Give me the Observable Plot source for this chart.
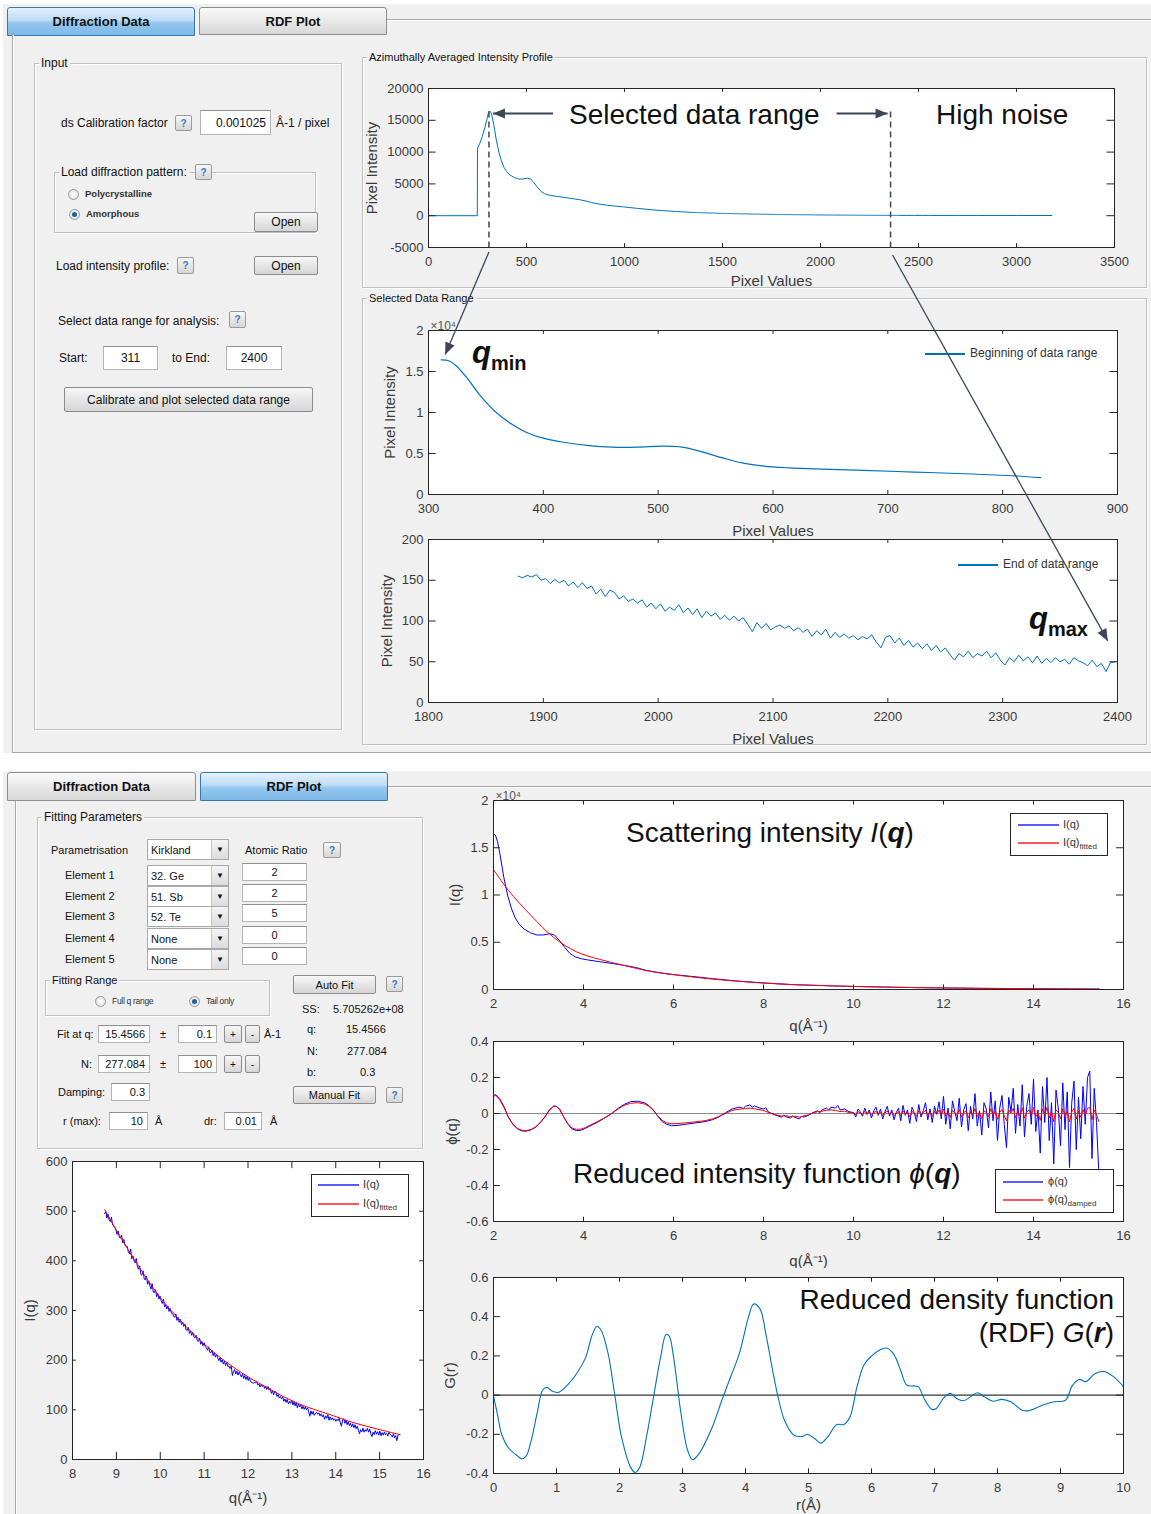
<!DOCTYPE html>
<html><head><meta charset="utf-8">
<script src="https://cdn.jsdelivr.net/npm/d3@7"></script>
<script src="https://cdn.jsdelivr.net/npm/@observablehq/plot@0.6"></script>
<style>
body{margin:0;background:#fff;}
#page{position:relative;width:1151px;height:1514px;overflow:hidden;background:#fff;font-family:"Liberation Sans",Arial,sans-serif;color:#111;}
#page div{position:absolute;box-sizing:border-box;}
.bg{background:#f0f0f0;}
.t{white-space:nowrap;font-size:12px;line-height:14px;color:#111;}
.tab{font-weight:bold;font-size:13px;display:flex;align-items:center;justify-content:center;border-radius:3px 3px 0 0;color:#111;}
.sel{background:linear-gradient(#e4f1fc,#bcdcf5 45%,#93c7ef 55%,#7fb8e6);border:1px solid #3a78ab;}
.uns{background:linear-gradient(#fafafa,#e8e8e8 50%,#d8d8d8);border:1px solid #8e8e8e;}
.panel{border:1px solid #c0c0c0;box-shadow:inset 1px 1px 0 #fff,1px 1px 0 #fff;}
.ptitle{position:absolute;top:-8px;left:4px;background:#f0f0f0;padding:0 2px;font-size:12px;line-height:14px;white-space:nowrap;color:#111;}
.edit{background:#fff;border:1px solid #b4b4b4;border-top-color:#8f8f8f;font-size:12px;display:flex;align-items:center;justify-content:flex-end;padding:0 4px;white-space:nowrap;}
.edit.c{justify-content:center;}
.btn{background:linear-gradient(#f7f7f7,#e6e6e6 50%,#d6d6d6);border:1px solid #8c8c8c;border-radius:2px;font-size:12px;display:flex;align-items:center;justify-content:center;white-space:nowrap;color:#111;}
.help{font-size:10px;color:#3a78c4;font-weight:bold;border-color:#9a9a9a;}
.radio{width:11px;height:11px;border-radius:50%;border:1px solid #9a9a9a;background:radial-gradient(#fff,#d8d8d8);}
.radio.on::after{content:"";position:absolute;left:2px;top:2px;width:5px;height:5px;border-radius:50%;background:#1f5f9e;}
.popup{background:#fff;border:1px solid #a8a8a8;font-size:11px;display:flex;align-items:center;padding-left:3px;white-space:nowrap;}
.popup span.arr{position:absolute;right:0;top:0;bottom:0;width:16px;background:linear-gradient(#f4f4f4,#dcdcdc);border-left:1px solid #c8c8c8;font-size:8px;display:flex;align-items:center;justify-content:center;color:#111;}
.leg{background:#fff;border:1px solid #262626;}
.big{white-space:nowrap;font-size:28px;line-height:32px;color:#111;}
.qb{font-style:italic;font-weight:bold;font-size:31px;}
.qs{font-weight:bold;font-size:20px;position:relative;top:7px;}
</style></head>
<body><div id="page"></div>
<script>
// ================= DATA =================
const calib = 0.001025;                 // Å-1 / pixel (GUI value)
const selStart = 311, selEnd = 2400;    // selected data range (pixels)
const noiseLine = 2360;                 // where the "high noise" marker is drawn

// Azimuthally averaged profile, pixel -> intensity
const profileHead = [[0,0],[249,0],[250,10600],[262,11400],[275,12500],[288,13900],[300,15400],[306,16200],[309,16450]];
const rangeStart = [[311,16420],[317,16340],[324,15700],[333,14300],[346,11900],[359,10000],[372,8620],[385,7600],[399,6900],[416,6400],[438,6000],[460,5770],[482,5770],[504,5900],[521,5770],[539,5160],[557,4430],[574,3820],[592,3460],[614,3250],[636,3130],[679,2930],[723,2740],[767,2530],[811,2260],[833,2050]];
const profileMid = [[850,1950],[880,1780],[913,1640],[950,1520],[990,1400],[1030,1270],[1065,1150],[1110,1020],[1150,900],[1190,810],[1222,740],[1260,670],[1290,610],[1320,560],[1352,505]];
const midNoisyStart = 1356, midNoisyStep = 4;
const midNoisy = [495,499,486,494,482,479,488,472,470,467,
 462,453,460,447,446,452,436,443,431,430,
 429,417,414,424,404,410,400,396,405,388,
 383,390,373,371,380,363,362,369,353,359,
 350,343,354,337,336,342,328,334,323,329,
 320,314,323,307,312,303,309,298,304,295,
 294,289,286,293,280,286,276,282,272,277,
 268,273,261,260,266,254,259,250,256,247,
 245,250,239,238,244,232,237,229,235,227,
 225,220,227,216,215,220,209,215,206,212,
 205,199,205,196,201,192,198,189,196,187,
 188,183,188,169,177,181,172,178,170,176,
 171,166,173,163,169,161,167,159,165,157];
const rangeEndStart = 1878, rangeEndStep = 4;
const rangeEnd = [155,153,156,154,157,150,152,146,151,147,
 150,143,148,141,147,140,143,133,139,130,
 138,135,127,131,124,127,122,126,117,122,
 115,121,112,117,113,120,110,116,108,115,
 104,112,106,110,102,107,101,106,100,104,
 96,87,98,91,97,89,93,95,91,94,
 88,92,86,90,81,88,83,90,79,86,
 80,84,79,82,77,81,78,83,74,67,
 80,82,73,79,70,76,68,73,66,72,
 64,70,62,67,59,52,60,56,63,55,
 60,57,63,55,61,52,46,55,50,58,
 51,56,49,57,48,54,49,55,50,53,
 47,55,51,49,45,52,44,48,38,49,
 50];
const profileTail = [[2440,47],[2480,50],[2520,44],[2560,46],[2600,41],[2700,40],[2800,36],[2900,34],[3000,31],[3100,30],[3180,28]];

// Fitted scattering intensity, q (Å-1) -> I
const iqFitted = [[2.0,12700],[2.33,10500],[2.84,7800],[3.34,5500],[3.84,4000],[4.35,3200],[4.85,2600],[5.35,2050],[5.86,1660],[6.36,1360],[6.86,1100],[7.36,900],[7.87,720],[8.3,600],[8.735,503],[9.0,462],[9.4,404],[10.0,326],[10.5,276],[10.92,239],[11.3,210],[11.68,185],[12.05,164],[12.43,145],[12.8,127],[13.19,111],[13.57,99],[13.95,88],[14.3,77],[14.7,67],[15.1,58],[15.47,50]];
const tailFrom = 8.73;

// Reduced intensity function phi(q)
const phiSmooth = [[2.0,0.10],[2.05,0.105],[2.13,0.085],[2.23,0.04],[2.33,-0.02],[2.43,-0.06],[2.53,-0.085],[2.63,-0.097],[2.73,-0.098],[2.84,-0.09],[2.94,-0.076],[3.04,-0.05],[3.14,-0.02],[3.24,0.02],[3.34,0.042],[3.40,0.04],[3.47,0.025],[3.54,-0.01],[3.64,-0.055],[3.74,-0.085],[3.84,-0.095],[3.94,-0.093],[4.04,-0.083],[4.14,-0.07],[4.3,-0.05],[4.45,-0.028],[4.6,-0.005],[4.75,0.025],[4.9,0.05],[5.05,0.066],[5.2,0.068],[5.35,0.06],[5.45,0.045],[5.55,0.02],[5.65,-0.015],[5.75,-0.045],[5.85,-0.06],[5.96,-0.068],[6.1,-0.066],[6.26,-0.06],[6.5,-0.052],[6.7,-0.045],[6.86,-0.035],[7.0,-0.02],[7.16,0.005],[7.3,0.025],[7.46,0.035],[7.55,0.028],[7.6,0.04],[7.7,0.048],[7.75,0.036],[7.8,0.042],[7.9,0.032],[8.0,0.025],[8.05,0.032],[8.1,0.01],[8.2,-0.002],[8.3,-0.012],[8.4,-0.02],[8.45,-0.01],[8.5,-0.018],[8.6,-0.025],[8.65,-0.014],[8.7,-0.022],[8.8,-0.03],[8.85,-0.015],[8.9,-0.02],[9.0,-0.01],[9.1,0.005],[9.2,0.015],[9.25,0.003],[9.3,0.02],[9.4,0.03],[9.45,0.018],[9.5,0.035],[9.6,0.03],[9.65,0.045],[9.7,0.02],[9.8,0.025],[9.9,0.01]];
const phiDampedSmooth = [[2.0,0.095],[2.05,0.1],[2.13,0.08],[2.23,0.035],[2.33,-0.02],[2.43,-0.06],[2.53,-0.083],[2.63,-0.093],[2.73,-0.095],[2.84,-0.088],[2.94,-0.074],[3.04,-0.05],[3.14,-0.02],[3.24,0.018],[3.34,0.04],[3.40,0.038],[3.47,0.022],[3.54,-0.01],[3.64,-0.052],[3.74,-0.08],[3.84,-0.088],[3.94,-0.087],[4.04,-0.078],[4.14,-0.066],[4.3,-0.046],[4.45,-0.026],[4.6,-0.005],[4.75,0.022],[4.9,0.045],[5.05,0.057],[5.2,0.06],[5.35,0.053],[5.45,0.04],[5.55,0.018],[5.65,-0.012],[5.75,-0.038],[5.85,-0.052],[5.96,-0.057],[6.1,-0.056],[6.26,-0.052],[6.5,-0.046],[6.7,-0.04],[6.86,-0.03],[7.0,-0.017],[7.16,0.0],[7.3,0.017],[7.46,0.024],[7.6,0.027],[7.7,0.03],[7.8,0.026],[7.9,0.022],[8.0,0.017],[8.1,0.007],[8.2,-0.002],[8.3,-0.009],[8.4,-0.014],[8.5,-0.013],[8.6,-0.017],[8.7,-0.015],[8.8,-0.02],[8.9,-0.013],[9.0,-0.007],[9.1,0.003],[9.2,0.01],[9.3,0.013],[9.4,0.018],[9.5,0.02],[9.6,0.017],[9.7,0.011],[9.8,0.013],[9.9,0.005]];
const phiNoisyStart = 10.0, phiNoisyStep = 0.05;   // values x 1000
const phiNoisy = [5,-20,25,10,-15,30,-5,20,-25,15,35,-10,25,-30,10,40,-15,20,-35,5,
 30,-40,45,-10,20,-55,35,5,-45,50,-20,15,60,-35,25,-50,40,-5,65,-30,
 95,-60,30,-85,70,10,-40,85,-75,20,55,-95,40,-30,110,-70,15,-120,60,25,
 -80,120,-40,70,-150,30,100,-60,-190,90,10,140,-110,50,-70,160,-130,40,110,-60,
 190,-100,20,-220,150,-50,200,-150,60,-280,130,30,-180,170,-90,120,-300,60,180,-200,
 90,-140,150,-60,200,235,-250,140,-50,-320];
const phiDampedNoisy = [3,-8,10,2,-6,12,-3,8,-10,5,12,-4,9,-12,4,14,-6,7,-13,2,
 10,-14,15,-4,7,-18,11,2,-15,16,-7,5,18,-11,8,-16,12,-2,19,-9,
 25,-16,8,-22,18,3,-11,22,-19,5,14,-24,10,-8,27,-17,4,-29,15,6,
 -18,27,-9,16,-33,7,22,-13,-40,19,2,29,-23,10,-14,32,-26,8,21,-12,
 35,-18,4,-38,26,-9,34,-25,10,-46,21,5,-29,27,-14,19,-47,9,28,-31,
 14,-21,22,-9,29,33,-35,19,-7,-44];

// Reduced density function G(r)
const gr = [[0,-0.005],[0.06,-0.094],[0.13,-0.2],[0.24,-0.27],[0.38,-0.31],[0.45,-0.325],[0.52,-0.31],[0.6,-0.23],[0.7,-0.08],[0.78,0.026],[0.85,0.04],[0.92,0.022],[1.03,0.014],[1.17,0.05],[1.32,0.11],[1.46,0.19],[1.57,0.31],[1.64,0.35],[1.71,0.33],[1.82,0.21],[1.93,-0.01],[2.03,-0.21],[2.18,-0.37],[2.25,-0.395],[2.32,-0.37],[2.43,-0.21],[2.54,-0.01],[2.65,0.19],[2.74,0.31],[2.79,0.3],[2.86,0.19],[2.97,-0.08],[3.08,-0.28],[3.16,-0.33],[3.26,-0.3],[3.47,-0.165],[3.62,-0.03],[3.76,0.09],[3.9,0.21],[4.05,0.40],[4.13,0.465],[4.23,0.44],[4.33,0.30],[4.44,0.11],[4.51,0.0],[4.62,-0.13],[4.77,-0.205],[4.91,-0.21],[4.98,-0.2],[5.09,-0.22],[5.2,-0.245],[5.3,-0.215],[5.45,-0.15],[5.56,-0.15],[5.66,-0.11],[5.77,0.043],[5.88,0.154],[5.99,0.196],[6.13,0.23],[6.24,0.24],[6.35,0.21],[6.46,0.128],[6.56,0.05],[6.67,0.047],[6.74,0.043],[6.85,-0.026],[6.96,-0.073],[7.03,-0.068],[7.14,-0.017],[7.25,0.009],[7.35,-0.017],[7.46,-0.029],[7.57,-0.009],[7.68,0.012],[7.79,-0.009],[7.93,-0.031],[8.07,-0.022],[8.21,-0.034],[8.39,-0.077],[8.5,-0.079],[8.72,-0.051],[8.9,-0.034],[9.08,-0.026],[9.19,0.05],[9.3,0.08],[9.4,0.068],[9.55,0.11],[9.69,0.12],[9.84,0.094],[10.0,0.043]];

// Tick values
const ticks1X = [0,500,1000,1500,2000,2500,3000,3500], ticks1Y = [-5000,0,5000,10000,15000,20000];
const ticks2X = [300,400,500,600,700,800,900], ticks2Y = [0,5000,10000,15000,20000];
const ticks3X = [1800,1900,2000,2100,2200,2300,2400], ticks3Y = [0,50,100,150,200];
const ticksQ = [2,4,6,8,10,12,14,16], ticksIqY = [0,5000,10000,15000,20000];
const ticksPhiY = [-0.6,-0.4,-0.2,0,0.2,0.4];
const ticksR = [0,1,2,3,4,5,6,7,8,9,10], ticksGY = [-0.4,-0.2,0,0.2,0.4,0.6];
const ticksBLX = [8,9,10,11,12,13,14,15,16], ticksBLY = [0,100,200,300,400,500,600];

// ================= derived series =================
const seq = (start, step, vals, k=1) => vals.map((v,i)=>[start+step*i, v*k]);
const midNoisyPairs = seq(midNoisyStart, midNoisyStep, midNoisy);
const rangeEndPairs = seq(rangeEndStart, rangeEndStep, rangeEnd);
const profileAll = [...profileHead, ...rangeStart, ...profileMid, ...midNoisyPairs, ...rangeEndPairs, ...profileTail];
const toQ = p => 2*Math.PI*calib*p;
const iqData = [...rangeStart, ...profileMid, ...midNoisyPairs, ...rangeEndPairs].map(([p,v])=>[toQ(p), v]);
const iqTail = iqData.filter(d=>d[0]>=tailFrom);
const iqFitTail = iqFitted.filter(d=>d[0]>=tailFrom);
const phiData = [...phiSmooth, ...seq(phiNoisyStart, phiNoisyStep, phiNoisy, 0.001)];
const phiDamped = [...phiDampedSmooth, ...seq(phiNoisyStart, phiNoisyStep, phiDampedNoisy, 0.001)];

// ================= page helpers =================
const FONT = '"Liberation Sans", Arial, sans-serif';
const page = document.getElementById('page');
function div(cls, x, y, w, h, html, css) {
  const d = document.createElement('div');
  d.className = cls;
  d.style.left = x + 'px'; d.style.top = y + 'px';
  if (w != null) d.style.width = w + 'px';
  if (h != null) d.style.height = h + 'px';
  if (html != null) d.innerHTML = html;
  if (css) d.style.cssText += css;
  page.appendChild(d);
  return d;
}
const txt = (x, cy, s, size=12, css='') => div('t', x, cy-7, null, null, s, `font-size:${size}px;${css}`);
const help = (x, y, w=17, h=16) => div('btn help', x, y, w, h, '?');
const radio = (x, y, on) => div('radio' + (on ? ' on' : ''), x, y, 11, 11);
const panel = (x, y, w, h, title, size=12) => { const p = div('panel', x, y, w, h); if (title) { const s = document.createElement('div'); s.className='ptitle'; s.style.fontSize=size+'px'; s.textContent=title; p.appendChild(s);} return p; };
const popup = (x, y, w, h, s) => div('popup', x, y, w, h, `${s}<span class="arr">&#9660;</span>`);
const hline = (x1, x2, y, c='#a8a8a8') => div('', x1, y, x2-x1, 1, null, `background:${c};box-shadow:0 1px 0 #fff`);
const vline = (x, y1, y2, c='#a8a8a8') => div('', x, y1, 1, y2-y1, null, `background:${c};box-shadow:1px 0 0 #fff`);

// backgrounds
div('bg', 3, 4, 1148, 749);
div('bg', 3, 771, 1148, 743);

// ---------- top GUI ----------
div('tab sel', 7, 7, 188, 29, 'Diffraction Data');
div('tab uns', 199, 7, 188, 28, 'RDF Plot');
hline(387, 1151, 19);
vline(12, 35, 752);
hline(12, 1151, 752);

panel(34, 63, 308, 667, 'Input');
txt(61, 123, 'ds Calibration factor');
help(175, 115);
div('edit', 200, 110, 71, 25, '0.001025');
txt(276, 123, 'Å-1 / pixel');
panel(54, 172, 262, 61, 'Load diffraction pattern:');
help(195, 164);
radio(68, 189, false); txt(85, 194, 'Polycrystalline', 9.5, 'font-weight:bold;color:#333');
radio(69, 209, true);  txt(86, 214, 'Amorphous', 9.5, 'font-weight:bold;color:#333');
div('btn', 254, 212, 64, 20, 'Open');
txt(56, 266, 'Load intensity profile:');
help(177, 257, 17, 17);
div('btn', 254, 256, 64, 19, 'Open');
txt(58, 321, 'Select data range for analysis:');
help(229, 311, 17, 17);
txt(59, 358, 'Start:');
div('edit c', 103, 346, 55, 24, String(selStart));
txt(172, 358, 'to End:');
div('edit c', 226, 346, 56, 24, String(selEnd));
div('btn', 64, 387, 249, 25, 'Calibrate and plot selected data range');

panel(362, 57, 785, 231, 'Azimuthally Averaged Intensity Profile', 11);
panel(362, 298, 785, 447, 'Selected Data Range', 11);

// ---------- bottom GUI ----------
div('tab uns', 7, 772, 189, 29, 'Diffraction Data');
div('tab sel', 200, 772, 188, 29, 'RDF Plot');
hline(388, 1151, 786);
vline(15, 801, 1514);

panel(37, 817, 386, 332, 'Fitting Parameters');
txt(51, 850, 'Parametrisation', 11);
popup(147, 839, 82, 21, 'Kirkland');
txt(245, 850, 'Atomic Ratio', 11);
help(323, 842, 18, 16);
const elemY = [875, 896, 916, 938, 959];
const elemNames = ['32. Ge', '51. Sb', '52. Te', 'None', 'None'];
const elemRatio = ['2', '2', '5', '0', '0'];
elemY.forEach((y, i) => {
  txt(65, y, 'Element ' + (i+1), 11);
  popup(147, y-10, 82, 21, elemNames[i]);
  div('edit c', 242, y-12, 65, 18, elemRatio[i], 'font-size:11px');
});
panel(45, 980, 225, 36, 'Fitting Range', 11);
radio(95, 996, false); txt(112, 1001, 'Full q range', 8.5, 'letter-spacing:-0.3px;color:#333');
radio(189, 996, true);  txt(206, 1001, 'Tail only', 8.5, 'letter-spacing:-0.3px;color:#333');
div('btn', 293, 975, 83, 19, 'Auto Fit', 'font-size:11px');
help(386, 976);
txt(302, 1009, 'SS:', 11); txt(333, 1009, '5.705262e+08', 11);
txt(307, 1029, 'q:', 11);  txt(346, 1029, '15.4566', 11);
txt(307, 1051, 'N:', 11);  txt(347, 1051, '277.084', 11);
txt(307, 1072, 'b:', 11);  txt(360, 1072, '0.3', 11);
div('btn', 293, 1086, 83, 18, 'Manual Fit', 'font-size:11px');
help(386, 1087);
txt(57, 1034, 'Fit at q:', 11);
div('edit', 98, 1025, 52, 18, '15.4566', 'font-size:11px');
txt(160, 1034, '±', 11);
div('edit', 178, 1025, 39, 18, '0.1', 'font-size:11px');
div('btn', 224, 1025, 18, 18, '+', 'font-size:10px'); div('btn', 245, 1025, 15, 18, '-', 'font-size:10px');
txt(264, 1034, 'Å-1', 11);
txt(81, 1064, 'N:', 11);
div('edit', 98, 1055, 52, 18, '277.084', 'font-size:11px');
txt(160, 1064, '±', 11);
div('edit', 178, 1055, 39, 18, '100', 'font-size:11px');
div('btn', 224, 1055, 18, 18, '+', 'font-size:10px'); div('btn', 245, 1055, 15, 18, '-', 'font-size:10px');
txt(58, 1092, 'Damping:', 11);
div('edit', 111, 1083, 39, 18, '0.3', 'font-size:11px');
txt(63, 1121, 'r (max):', 11);
div('edit', 109, 1112, 39, 18, '10', 'font-size:11px');
txt(155, 1121, 'Å', 11);
txt(204, 1121, 'dr:', 11);
div('edit', 224, 1112, 38, 18, '0.01', 'font-size:11px');
txt(270, 1121, 'Å', 11);

// ================= charts =================
const fmtNum = d => d === 0 ? '0' : String(+d.toFixed(2));
const fmt1e4 = d => fmtNum(d / 1e4);
function chart(o) {
  const {left, top, width, height, mt, mr, mb, ml, xd, yd, xt, yt, xf = fmtNum, yf = fmtNum, xlabel, ylabel, xlo, ylo, marks, sup} = o;
  const dx = (xd[1]-xd[0])*0.011, dy = (yd[1]-yd[0])*0.024;
  const tickC = '#262626';
  const svg = Plot.plot({
    width, height, marginTop: mt, marginRight: mr, marginBottom: mb, marginLeft: ml,
    x: {domain: xd}, y: {domain: yd},
    style: {background: 'transparent', fontFamily: FONT, fontSize: '13px', color: '#3a3a3a', overflow: 'hidden'},
    marks: [
      Plot.frame({fill: 'white', stroke: null}),
      ...marks,
      Plot.ruleX(xt, {x: d=>d, y1: yd[0], y2: yd[0]+dy, stroke: tickC}),
      Plot.ruleX(xt, {x: d=>d, y1: yd[1]-dy, y2: yd[1], stroke: tickC}),
      Plot.ruleY(yt, {y: d=>d, x1: xd[0], x2: xd[0]+dx, stroke: tickC}),
      Plot.ruleY(yt, {y: d=>d, x1: xd[1]-dx, x2: xd[1], stroke: tickC}),
      Plot.axisX(xt, {tickSize: 0, tickPadding: 9, tickFormat: xf, label: null, fill: '#3a3a3a'}),
      Plot.axisY(yt, {tickSize: 0, tickPadding: 5, tickFormat: yf, label: null, fill: '#3a3a3a'}),
      Plot.text([xlabel], {text: d=>d, frameAnchor: 'bottom', textAnchor: 'middle', dy: xlo, fontSize: 15, fill: '#3a3a3a'}),
      Plot.text([ylabel], {text: d=>d, frameAnchor: 'left', textAnchor: 'middle', dx: -ylo, rotate: -90, fontSize: 15, fill: '#3a3a3a'}),
      ...(sup ? [Plot.text([sup], {text: d=>d, frameAnchor: 'top-left', textAnchor: 'start', dx: 2, dy: -9, fontSize: 12, fill: '#555'})] : []),
      Plot.frame({stroke: tickC})
    ]
  });
  svg.style.position = 'absolute';
  svg.style.left = left + 'px';
  svg.style.top = top + 'px';
  page.appendChild(svg);
  return {svg, left, top, x: svg.scale('x'), y: svg.scale('y')};
}
const MBLUE = '#0072BD';
const ln = (data, stroke, curve='linear', w=1) => Plot.line(data, {x: d=>d[0], y: d=>d[1], stroke, strokeWidth: w, curve});

const c1 = chart({left: 362, top: 68, width: 780, height: 226, mt: 20, mr: 28, mb: 47, ml: 66,
  xd: [0, 3500], yd: [-5000, 20000], xt: ticks1X, yt: ticks1Y, xf: String, yf: String,
  xlabel: 'Pixel Values', ylabel: 'Pixel Intensity', xlo: 38, ylo: 56,
  marks: [ln(profileAll, MBLUE)]});

const c2 = chart({left: 362, top: 306, width: 785, height: 234, mt: 24, mr: 30, mb: 46, ml: 66,
  xd: [300, 900], yd: [0, 20000], xt: ticks2X, yt: ticks2Y, xf: String, yf: fmt1e4,
  xlabel: 'Pixel Values', ylabel: 'Pixel Intensity', xlo: 41, ylo: 38, sup: '×10⁴',
  marks: [ln(rangeStart, MBLUE, 'catmull-rom', 1.2)]});

const c3 = chart({left: 362, top: 530, width: 785, height: 215, mt: 9, mr: 30, mb: 43, ml: 66,
  xd: [1800, 2400], yd: [0, 200], xt: ticks3X, yt: ticks3Y, xf: String, yf: String,
  xlabel: 'Pixel Values', ylabel: 'Pixel Intensity', xlo: 41, ylo: 41,
  marks: [ln(rangeEndPairs, MBLUE)]});

const c4 = chart({left: 440, top: 784, width: 711, height: 251, mt: 16, mr: 28, mb: 46, ml: 53,
  xd: [2, 16], yd: [0, 20000], xt: ticksQ, yt: ticksIqY, yf: fmt1e4,
  xlabel: 'q(Å⁻¹)', ylabel: 'I(q)', xlo: 41, ylo: 38, sup: '×10⁴',
  marks: [ln(iqData, 'blue'), ln(iqFitted, 'red', 'catmull-rom')]});

const c5 = chart({left: 440, top: 1035, width: 711, height: 233, mt: 6, mr: 28, mb: 47, ml: 53,
  xd: [2, 16], yd: [-0.6, 0.4], xt: ticksQ, yt: ticksPhiY,
  xlabel: 'q(Å⁻¹)', ylabel: 'ϕ(q)', xlo: 44, ylo: 41,
  marks: [Plot.ruleY([0], {stroke: '#8a8a8a', strokeWidth: 1.2}), ln(phiData, 'blue'), ln(phiDamped, 'red')]});

const c6 = chart({left: 440, top: 1268, width: 711, height: 246, mt: 9, mr: 28, mb: 41, ml: 53,
  xd: [0, 10], yd: [-0.4, 0.6], xt: ticksR, yt: ticksGY,
  xlabel: 'r(Å)', ylabel: 'G(r)', xlo: 36, ylo: 43,
  marks: [Plot.ruleY([0], {stroke: '#000'}), ln(gr, MBLUE, 'catmull-rom', 1.1)]});

const c7 = chart({left: 16, top: 1150, width: 420, height: 364, mt: 11, mr: 13, mb: 55, ml: 56,
  xd: [8, 16], yd: [0, 600], xt: ticksBLX, yt: ticksBLY,
  xlabel: 'q(Å⁻¹)', ylabel: 'I(q)', xlo: 43, ylo: 42,
  marks: [ln(iqTail, 'blue'), ln(iqFitTail, 'red', 'catmull-rom')]});

// ================= legends =================
function legend(x, y, w, h, items, box=true) {
  div(box ? 'leg' : '', x, y, w, h);
  items.forEach(([cy, color, label, lx, lw, tx, fs]) => {
    div('', x + lx, cy, lw, 1.6, null, `background:${color}`);
    div('t', x + tx, cy - 7, null, null, label, `font-size:${fs}px;color:#333`);
  });
}
const sub = s => `<sub style="font-size:8px;vertical-align:-3px">${s}</sub>`;
legend(920, 345, 190, 16, [[353, MBLUE, 'Beginning of data range', 5, 40, 50, 12]], false);
legend(953, 556, 150, 16, [[564, MBLUE, 'End of data range', 5, 40, 50, 12]], false);
legend(1010, 813, 98, 43, [[824, '#5a5aff', 'I(q)', 8, 41, 53, 11], [842, '#ff5a5a', 'I(q)' + sub('fitted'), 8, 41, 53, 11]]);
legend(995, 1169, 119, 44, [[1181, '#5a5aff', 'ϕ(q)', 8, 40, 53, 11], [1199, '#ff5a5a', 'ϕ(q)' + sub('damped'), 8, 40, 53, 11]]);
legend(311, 1174, 98, 43, [[1184, '#5a5aff', 'I(q)', 7, 41, 52, 11], [1203, '#ff5a5a', 'I(q)' + sub('fitted'), 7, 41, 52, 11]]);

// ================= annotations =================
const big = (x, cy, html, css='') => div('big', x, cy-16, null, null, html, css);
big(569, 115, 'Selected data range');
big(936, 115, 'High noise');
big(626, 833, 'Scattering intensity <i>I</i>(<b><i>q</i></b>)');
big(573, 1174, 'Reduced intensity function <i>ϕ</i>(<b><i>q</i></b>)');
big(0, 1300, 'Reduced density function', 'left:auto;right:37px;');
big(0, 1333, '(RDF) <i>G</i>(<b><i>r</i></b>)', 'left:auto;right:37px;');
const qsub = s => `<span class="qb">q</span><span class="qs">${s}</span>`;
div('t', 472, 336, null, null, qsub('min'), 'line-height:34px');
div('t', 1029, 602, null, null, qsub('max'), 'line-height:34px');

// arrows & dashed markers, positioned through the chart scales
const P = (c, xv, yv) => [c.left + c.x.apply(xv), c.top + c.y.apply(yv)];
const ov = d3.create('svg').attr('width', 1151).attr('height', 1514)
  .style('position', 'absolute').style('left', '0px').style('top', '0px').style('pointer-events', 'none');
const AC = '#3b4758';
function arrow(x1, y1, x2, y2, w=1.5) {
  ov.append('line').attr('x1', x1).attr('y1', y1).attr('x2', x2).attr('y2', y2).attr('stroke', AC).attr('stroke-width', w);
  const a = Math.atan2(y2-y1, x2-x1), L = 12, H = 5;
  const bx = x2 - L*Math.cos(a), by = y2 - L*Math.sin(a);
  ov.append('path').attr('fill', AC)
    .attr('d', `M${x2},${y2}L${bx + H*Math.sin(a)},${by - H*Math.cos(a)}L${bx - H*Math.sin(a)},${by + H*Math.cos(a)}Z`);
}
const [xs, ya] = P(c1, selStart, 16000);
const [xe] = P(c1, noiseLine, 16000);
const yb = c1.top + c1.y.apply(-5000);
ov.append('line').attr('x1', xs).attr('x2', xs).attr('y1', ya - 2).attr('y2', yb + 4).attr('stroke', AC).attr('stroke-width', 1.5).attr('stroke-dasharray', '6,4');
ov.append('line').attr('x1', xe).attr('x2', xe).attr('y1', ya - 2).attr('y2', yb + 4).attr('stroke', AC).attr('stroke-width', 1.5).attr('stroke-dasharray', '6,4');
arrow(xs + 64, ya, xs + 4, ya, 2);
arrow(xe - 54, ya, xe - 3, ya, 2);
const [tx1, ty1] = P(c2, 315, 17000);
arrow(xs, yb + 5, tx1, ty1, 1.3);
const [tx2, ty2] = P(c3, 2392, 75);
arrow(xe + 2, yb + 8, tx2, ty2, 1.3);
page.appendChild(ov.node());
</script>
</body></html>
